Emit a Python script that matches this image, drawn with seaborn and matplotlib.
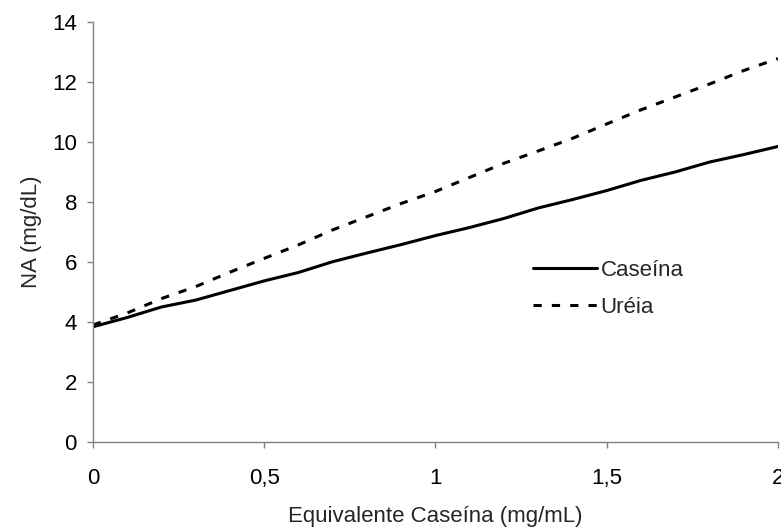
import matplotlib
matplotlib.use("Agg")
import matplotlib.pyplot as plt
import seaborn as sns
import pandas as pd

x_vals = [0.0, 0.1, 0.2, 0.3, 0.4, 0.5, 0.6, 0.7, 0.8, 0.9, 1.0,
          1.1, 1.2, 1.3, 1.4, 1.5, 1.6, 1.7, 1.8, 1.9, 2.0]
caseina = [3.84, 4.15, 4.50, 4.73, 5.05, 5.37, 5.65, 6.01, 6.30, 6.58, 6.88,
           7.15, 7.45, 7.80, 8.08, 8.38, 8.72, 9.00, 9.33, 9.58, 9.85]
ureia = [3.90, 4.30, 4.78, 5.18, 5.66, 6.12, 6.57, 7.07, 7.51, 7.95, 8.35,
         8.82, 9.29, 9.70, 10.12, 10.60, 11.07, 11.50, 11.93, 12.38, 12.78]
series_names = ["Caseína", "Uréia"]
x_ticks = [0, 0.5, 1, 1.5, 2]
x_tick_labels = ["0", "0,5", "1", "1,5", "2"]
y_ticks = [0, 2, 4, 6, 8, 10, 12, 14]

df = pd.concat([
    pd.DataFrame({"x": x_vals, "y": caseina, "s": series_names[0]}),
    pd.DataFrame({"x": x_vals, "y": ureia, "s": series_names[1]}),
])

sns.set_theme(style="white")
plt.rcParams["font.family"] = ["Liberation Sans", "DejaVu Sans"]

FS = 16

fig = plt.figure(figsize=(7.81, 5.31), dpi=100)
ax = fig.add_axes([0.119, 0.1676, 0.877, 0.791])

sns.lineplot(data=df, x="x", y="y", hue="s", style="s",
             palette={series_names[0]: "black", series_names[1]: "black"},
             dashes={series_names[0]: "", series_names[1]: (2.7, 3.3)},
             linewidth=2.2, ax=ax, legend=True)

ax.set_xlim(0, 2)
ax.set_ylim(0, 14)
ax.set_xticks(x_ticks)
ax.set_xticklabels(x_tick_labels)
ax.set_yticks(y_ticks)
ax.tick_params(axis="both", which="major", bottom=True, left=True,
               direction="out", length=4.5, width=1, color="#808080",
               labelsize=FS, labelcolor="black")
ax.tick_params(axis="y", pad=7)
ax.tick_params(axis="x", pad=14.5)
for s in ["top", "right"]:
    ax.spines[s].set_visible(False)
for s in ["left", "bottom"]:
    ax.spines[s].set_color("#808080")
    ax.spines[s].set_linewidth(1)
ax.set_xlabel("Equivalente Caseína (mg/mL)", fontsize=FS, labelpad=12)
ax.set_ylabel("NA (mg/dL)", fontsize=FS, labelpad=7)

leg = ax.legend(loc="upper left", bbox_to_anchor=(0.642, 0.433), frameon=False,
                fontsize=FS, handlelength=2.9, handletextpad=0.15,
                labelspacing=0.72, borderpad=0, borderaxespad=0)

fig.savefig("out.png", dpi=100)
